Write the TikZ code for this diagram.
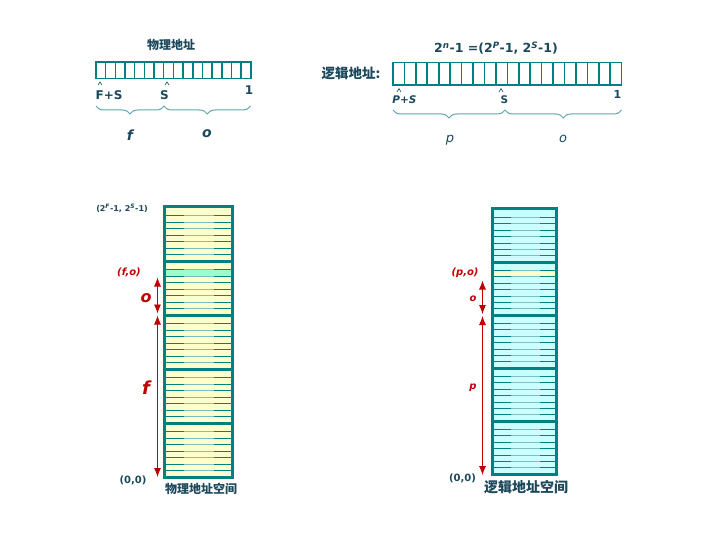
\documentclass[tikz,border=0pt]{standalone}
\usepackage{fontspec}
\setmainfont{DejaVu Sans}
\newfontfamily\cjk{Noto Sans CJK SC}
\usepackage{tikz}
\usetikzlibrary{arrows.meta,decorations.pathreplacing,calc}
\definecolor{frame}{RGB}{0,128,128}
\definecolor{ink}{RGB}{28,72,92}
\definecolor{mark}{RGB}{192,0,0}
\definecolor{physfill}{RGB}{255,255,204}
\definecolor{logfill}{RGB}{204,255,255}
\definecolor{hlgreen}{RGB}{153,255,204}
\definecolor{bracecol}{RGB}{95,165,175}

\begin{document}
\begin{tikzpicture}[
    x=1pt, y=-1pt,
    cell/.style={draw=frame, line width=1.6pt},
    outline/.style={draw=frame, line width=3pt},
    stripe/.style={draw=frame, line width=0.8pt},
    stripelt/.style={draw=frame!50, line width=0.8pt},
    lbl/.style={text=ink, inner sep=0pt, font=\bfseries\fontsize{12}{14}\selectfont},
    small/.style={text=ink, inner sep=0pt, font=\fontsize{8.5}{10}\selectfont},
    cn/.style={text=ink, inner sep=0pt, font=\cjk\bfseries\fontsize{12}{14}\selectfont},
    redlbl/.style={text=mark, inner sep=0pt, font=\bfseries\itshape\fontsize{10}{12}\selectfont},
    brace/.style={decorate, decoration={brace, mirror, amplitude=8pt}, draw=bracecol, line width=1pt},
    caret/.style={draw=ink, line width=0.6pt},
    dim/.style={{Latex[length=9pt,width=7pt]}-{Latex[length=9pt,width=7pt]}, draw=mark, line width=0.8pt}
]
    \fill[white] (0,0) rectangle (720,540);
    \useasboundingbox (0,0) rectangle (720,540);

    % Physical address register
    \node[cn] (ptitle) at (171,45) {物理地址};
    \foreach \i in {0,...,15}
        \draw[cell] (96+9.67*\i,62) rectangle ++(9.67,16.5);
    \draw[caret] (98,85) -- (100,82) -- (102,85);
    \draw[caret] (165,85) -- (167,82) -- (169,85);
    \node[lbl] (pfs) at (109,95) {F+S};
    \node[lbl] (ps) at (164.5,95) {S};
    \node[lbl] (pone) at (249,90) {1};
    \coordinate (pb0) at (96,106);
    \coordinate (pb1) at (164,106);
    \coordinate (pb2) at (250.5,106);
    \draw[brace] (pb0) -- (pb1);
    \draw[brace] (pb1) -- (pb2);
    \node[lbl, font=\bfseries\itshape\fontsize{14}{16}\selectfont] (pf) at (130,135) {f};
    \node[lbl, font=\bfseries\itshape\fontsize{14}{16}\selectfont] (po) at (207,134) {o};

    % Logical address register
    \node[lbl, font=\bfseries\fontsize{12.5}{15}\selectfont] (ltitle) at (496,48)
        {2\textsuperscript{\itshape n}-1 =(2\textsuperscript{\itshape P}-1, 2\textsuperscript{\itshape S}-1)};
    \node[cn, font=\cjk\bfseries\fontsize{13.5}{16}\selectfont] (lname) at (351,73.5) {逻辑地址:};
    \foreach \i in {0,...,19}
        \draw[cell] (393+11.43*\i,62.5) rectangle ++(11.43,22.5);
    \draw[caret] (397,92) -- (399,88.5) -- (401,92);
    \draw[caret] (499,92) -- (501,88.5) -- (503,92);
    \node[lbl, font=\bfseries\itshape\fontsize{10.5}{12}\selectfont] (lps) at (404.5,100) {P+S};
    \node[lbl, font=\bfseries\fontsize{10.5}{12}\selectfont] (ls) at (504.5,100) {S};
    \node[lbl, font=\bfseries\fontsize{11}{13}\selectfont] (lone) at (617.5,94) {1};
    \coordinate (lb0) at (393,110);
    \coordinate (lb1) at (505,110);
    \coordinate (lb2) at (621.5,110);
    \draw[brace] (lb0) -- (lb1);
    \draw[brace] (lb1) -- (lb2);
    \node[small, font=\itshape\fontsize{13}{15}\selectfont] (lp) at (450,140) {p};
    \node[small, font=\itshape\fontsize{13}{15}\selectfont] (lo) at (563,139) {o};

    % Physical address space
    \fill[physfill] (164.5,207) rectangle (232,477);
    \fill[hlgreen] (164.5,269.5) rectangle (232,276);
    \foreach \b in {0,...,4}
        \foreach \k in {1,...,7} {
            \draw[stripe] (164.5,209+54*\b+6.5*\k) -- ++(67.5,0);
            \draw[stripelt] (184,209+54*\b+6.5*\k) -- ++(30,0);
        }
    \foreach \b in {1,...,4}
        \draw[outline] (164.5,207+54*\b) -- (232,207+54*\b);
    \draw[outline] (164.5,207) rectangle (232,477);
    \node[small, font=\bfseries\fontsize{8}{10}\selectfont] (pmax) at (122,208) {(2\textsuperscript{\itshape F}-1, 2\textsuperscript{\itshape S}-1)};
    \node[lbl, font=\bfseries\fontsize{10}{12}\selectfont] (porigin) at (133,480) {(0,0)};
    \node[cn] (pspace) at (201,489) {物理地址空间};

    % Physical offsets
    \coordinate (ptop) at (157.5,277.5);
    \coordinate (pmidA) at (157.5,313.5);
    \coordinate (pmidB) at (157.5,315.5);
    \coordinate (pbot) at (157.5,477);
    \draw[dim] (ptop) -- (pmidA);
    \draw[dim] (pmidB) -- (pbot);
    \node[redlbl] (pfo) at (129,272) {(f,o)};
    \node[redlbl, font=\bfseries\itshape\fontsize{16}{18}\selectfont] (poff) at (146,298) {o};
    \node[redlbl, font=\bfseries\itshape\fontsize{18}{20}\selectfont] (pframe) at (146,388) {f};

    % Logical address space
    \fill[logfill] (492,209) rectangle (556,474);
    \fill[physfill] (492,269.5) rectangle (556,275.8);
    \foreach \b in {0,...,4}
        \foreach \k in {1,...,7} {
            \draw[stripe] (492,211+53*\b+6.4*\k) -- ++(64,0);
            \draw[stripelt] (511,211+53*\b+6.4*\k) -- ++(29,0);
        }
    \foreach \b in {1,...,4}
        \draw[outline] (492,209+53*\b) -- (556,209+53*\b);
    \draw[outline] (492,209) rectangle (556,474);
    \node[lbl, font=\bfseries\fontsize{10}{12}\selectfont] (lorigin) at (462.5,478) {(0,0)};
    \node[cn, font=\cjk\bfseries\fontsize{14}{16}\selectfont] (lspace) at (526,487) {逻辑地址空间};

    % Logical offsets
    \coordinate (ltop) at (482.5,280.5);
    \coordinate (lmidA) at (482.5,314);
    \coordinate (lmidB) at (482.5,316);
    \coordinate (lbot) at (482.5,475);
    \draw[dim] (ltop) -- (lmidA);
    \draw[dim] (lmidB) -- (lbot);
    \node[redlbl] (lpo) at (465,273) {(p,o)};
    \node[redlbl] (loff) at (473,299) {o};
    \node[redlbl] (lpage) at (473,388) {p};
\end{tikzpicture}
\end{document}
